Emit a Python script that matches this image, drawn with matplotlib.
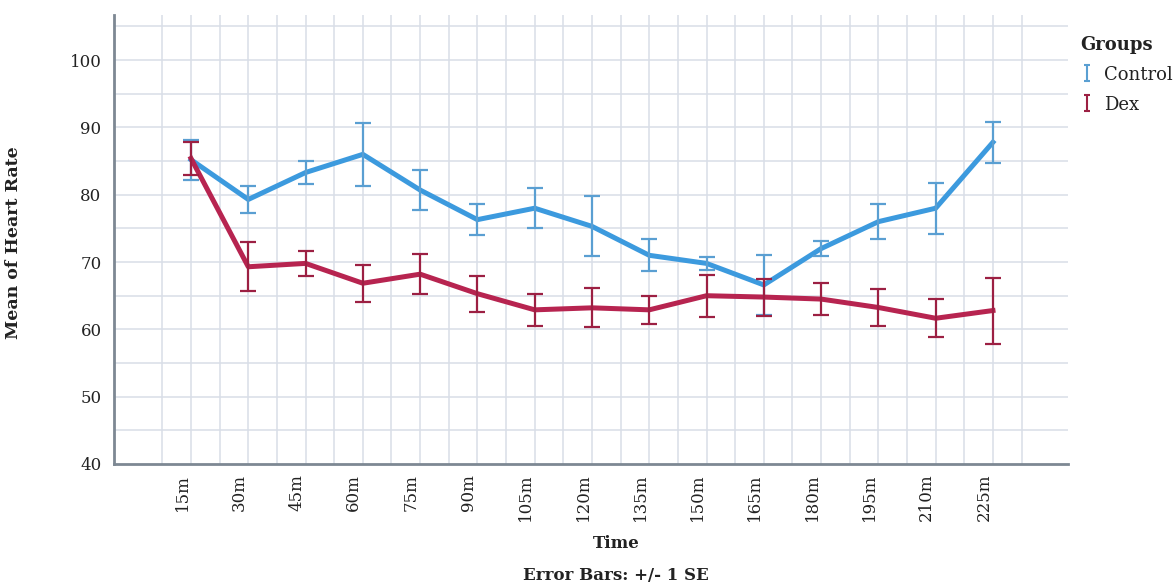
import matplotlib
matplotlib.use("Agg")
import matplotlib.pyplot as plt
import numpy as np
from matplotlib.path import Path
from matplotlib.lines import Line2D
from matplotlib.transforms import ScaledTranslation

# Mean heart rate by time point, with +/- 1 SE
times = ["15m", "30m", "45m", "60m", "75m", "90m", "105m", "120m",
         "135m", "150m", "165m", "180m", "195m", "210m", "225m"]
control_mean = [85.2, 79.3, 83.3, 86.0, 80.7, 76.3, 78.0, 75.3,
                71.0, 69.8, 66.6, 72.0, 76.0, 78.0, 87.8]
control_se = [3.0, 2.0, 1.65, 4.7, 3.0, 2.25, 3.0, 4.45,
              2.4, 1.0, 4.4, 1.1, 2.6, 3.8, 3.05]
dex_mean = [85.4, 69.3, 69.8, 66.85, 68.2, 65.3, 62.9, 63.2,
            62.9, 65.0, 64.8, 64.5, 63.25, 61.65, 62.8]
dex_se = [2.45, 3.65, 1.85, 2.75, 3.0, 2.65, 2.4, 2.9,
          2.05, 3.1, 2.75, 2.4, 2.75, 2.85, 4.9]
yticks = [40, 50, 60, 70, 80, 90, 100]

BLUE_LINE = "#3c9ade"
BLUE_ERR = "#5a9fd2"
RED_LINE = "#b72450"
RED_ERR = "#9c2043"
AXIS_GRAY = "#7d8893"
GRID = "#d9dee7"
TEXT = "#222222"
SERIF = "DejaVu Serif"

plt.rcParams["font.family"] = SERIF

fig = plt.figure(figsize=(11.75, 5.84), dpi=100)
ax = fig.add_axes([114 / 1175, 1 - 464 / 584, (1068 - 114) / 1175, (464 - 15) / 584])

x = np.arange(len(times))

# background grid: every 5 units vertically, every half step horizontally
for yv in np.arange(45, 106, 5):
    ax.axhline(yv, color=GRID, lw=1.1, zorder=0)
for xv in np.arange(-0.5, len(times), 0.5):
    ax.axvline(xv, color=GRID, lw=1.1, zorder=0)

ax.plot(x, control_mean, color=BLUE_LINE, lw=3.6, zorder=3, solid_joinstyle="round")
ax.errorbar(x, control_mean, yerr=control_se, fmt="none", ecolor=BLUE_ERR,
            elinewidth=1.6, capsize=5.5, capthick=1.6, zorder=4)
ax.plot(x, dex_mean, color=RED_LINE, lw=3.6, zorder=5, solid_joinstyle="round")
ax.errorbar(x, dex_mean, yerr=dex_se, fmt="none", ecolor=RED_ERR,
            elinewidth=1.6, capsize=5.5, capthick=1.6, zorder=6)

ax.set_xlim(-1.344, 15.31)
ax.set_ylim(40, 106.7)
ax.set_yticks(yticks)
ax.set_yticklabels([str(v) for v in yticks], fontsize=12, color=TEXT)
ax.set_xticks(x)
ax.set_xticklabels(times, rotation=90, fontsize=12, color=TEXT, va="top", ha="center")
ax.tick_params(axis="both", length=0)
ax.tick_params(axis="x", pad=7)
ax.tick_params(axis="y", pad=9)

# rotated time labels sit slightly left of their points
offset = ScaledTranslation(-9 / 100, 0, fig.dpi_scale_trans)
for tick in ax.xaxis.get_major_ticks():
    tick.label1.set_transform(tick.label1.get_transform() + offset)

for side in ("top", "right"):
    ax.spines[side].set_visible(False)
for side in ("left", "bottom"):
    ax.spines[side].set_color(AXIS_GRAY)
    ax.spines[side].set_linewidth(2.0)

ax.set_ylabel("Mean of Heart Rate", fontsize=12.5, fontweight="bold", color=TEXT)
ax.yaxis.set_label_coords((22 - 114) / (1068 - 114), (464 - 243) / (464 - 15))

fig.text(616 / 1175, 1 - 543 / 584, "Time", fontsize=12, fontweight="bold",
         ha="center", va="center", color=TEXT)
fig.text(616 / 1175, 1 - 575 / 584, "Error Bars: +/- 1 SE", fontsize=12,
         fontweight="bold", ha="center", va="center", color=TEXT)

# legend with I-beam glyphs for the error-bar groups
ibeam = Path([(-0.4, 1), (0.4, 1), (0, 1), (0, -1), (-0.4, -1), (0.4, -1)],
             [Path.MOVETO, Path.LINETO, Path.MOVETO, Path.LINETO, Path.MOVETO, Path.LINETO])
handles = [
    Line2D([], [], linestyle="none", marker=ibeam, markersize=11,
           markeredgecolor=BLUE_ERR, markerfacecolor="none", markeredgewidth=1.5),
    Line2D([], [], linestyle="none", marker=ibeam, markersize=11,
           markeredgecolor=RED_ERR, markerfacecolor="none", markeredgewidth=1.5),
]
leg = fig.legend(handles, ["Control", "Dex"], loc="upper left",
                 bbox_to_anchor=(1073 / 1175, 1 - 29 / 584), frameon=False,
                 title="Groups", title_fontproperties={"weight": "bold", "size": 13},
                 fontsize=13, handlelength=0.8, handletextpad=0.5, handleheight=1.1,
                 labelspacing=0.62, alignment="left", borderaxespad=0)
for t in leg.get_texts():
    t.set_color(TEXT)
leg.get_title().set_color(TEXT)

fig.savefig("out.png", dpi=100)
